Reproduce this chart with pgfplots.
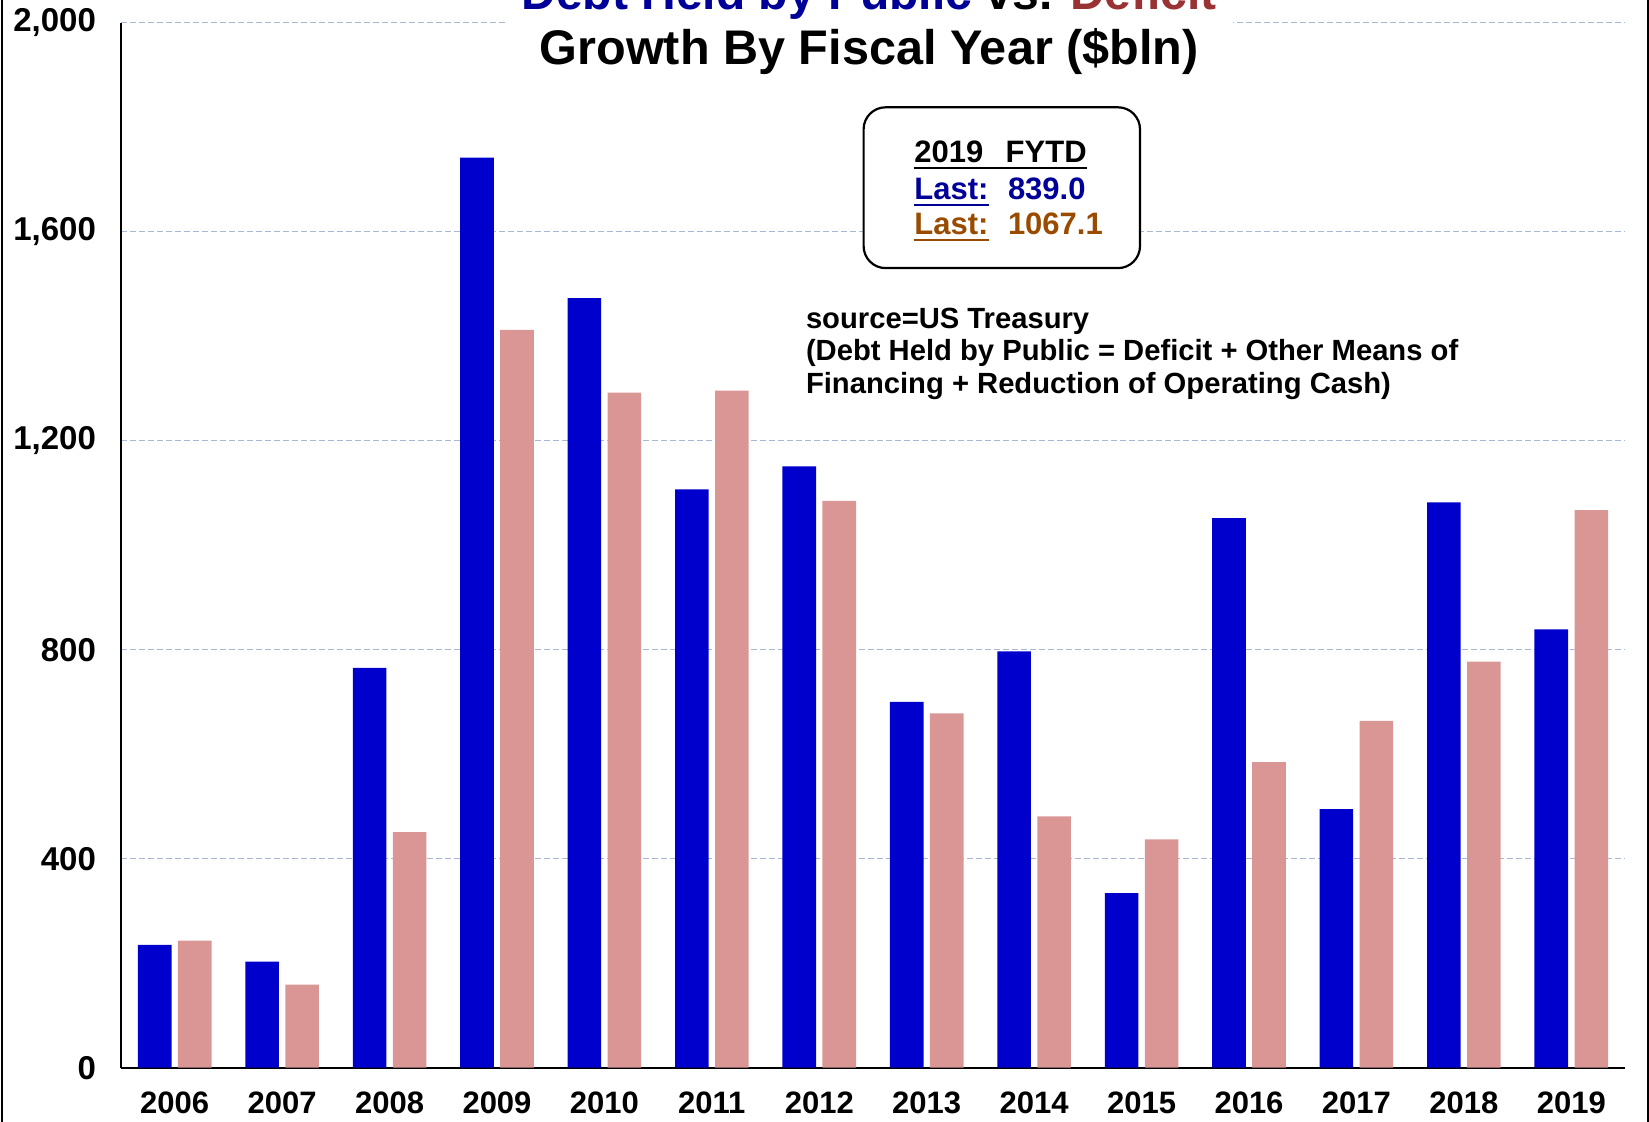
\documentclass[border=0pt]{standalone}
\usepackage{pgfplots}
\pgfplotsset{compat=1.18}
\usepackage{fontspec}
\setmainfont{Liberation Sans}
\definecolor{bblue}{RGB}{0,0,204}
\definecolor{bpink}{RGB}{217,150,148}
\definecolor{gridc}{RGB}{170,185,210}
\definecolor{tblue}{RGB}{0,0,153}
\definecolor{tred}{RGB}{153,51,51}
\definecolor{tbrown}{RGB}{153,76,0}
\begin{document}
\begin{tikzpicture}
\path[use as bounding box, clip] (-60.5pt,-26.65pt) rectangle (764pt,533.85pt);
\begin{axis}[
  at={(0pt,0pt)}, anchor=south west,
  width=752pt, height=522.5pt, scale only axis,
  xmin=-0.5, xmax=13.5, ymin=0, ymax=2000,
  axis x line*=bottom, axis y line*=left,
  axis line style={-, line width=0.8pt, black},
  xtick={0,1,2,3,4,5,6,7,8,9,10,11,12,13},
  xticklabels={2006,2007,2008,2009,2010,2011,2012,2013,2014,2015,2016,2017,2018,2019},
  ytick={0,400,800,1200,1600,2000},
  ymajorgrids,
  grid style={dash pattern=on 3pt off 1.5pt, color=gridc, line width=0.6pt},
  major tick length=0pt,
  tick label style={font=\fontsize{15.5}{18}\selectfont\bfseries},
  yticklabel style={xshift=-9pt, font=\fontsize{16.5}{19}\selectfont\bfseries},
  xticklabel style={yshift=-8.5pt},
  /pgf/number format/assume math mode=true,
  /pgf/number format/1000 sep={,},
  bar width=16.8pt,
]
\addplot[ybar, fill=bblue, draw=none, bar shift=-10pt] coordinates {
 (0,235) (1,203) (2,765) (3,1742) (4,1473) (5,1107) (6,1151)
 (7,700) (8,797) (9,334) (10,1052) (11,495) (12,1082) (13,839)};
\addplot[ybar, fill=bpink, draw=none, bar shift=10pt] coordinates {
 (0,243) (1,159) (2,451) (3,1412) (4,1292) (5,1296) (6,1085)
 (7,678) (8,481) (9,437) (10,585) (11,664) (12,777) (13,1067.1)};
\end{axis}
% frame lines
\draw[line width=1pt] (-59.3pt,-30pt) -- (-59.3pt,540pt);
\draw[line width=1pt] (763.3pt,-30pt) -- (763.3pt,540pt);
% title
\fill[white] (193.5pt,505pt) rectangle (556pt,540pt);
\node[anchor=base, inner sep=0pt, font=\fontsize{24}{28}\selectfont\bfseries] at (374.1pt,528.9pt)
  {\textcolor{tblue}{Debt Held by Public} vs. \textcolor{tred}{Deficit}};
\node[anchor=base, inner sep=0pt, font=\fontsize{24.3}{28}\selectfont\bfseries] at (374.1pt,501.4pt)
  {Growth By Fiscal Year (\$bln)};
% info box
\draw[line width=1.1pt, fill=white, rounded corners=11pt] (371.3pt,399.8pt) rectangle (509.5pt,480.2pt);
\node[anchor=base west, inner sep=0pt, font=\fontsize{15.5}{18}\selectfont\bfseries] (h) at (396.5pt,452.4pt) {2019\ \ \,FYTD};
\draw[line width=1.1pt] ([yshift=-2.6pt]h.base west) -- ([yshift=-2.6pt]h.base east);
\node[anchor=base west, inner sep=0pt, font=\fontsize{15.5}{18}\selectfont\bfseries, text=tblue] (l1) at (396.5pt,434pt) {Last:};
\draw[line width=1.1pt, tblue] ([yshift=-2.6pt]l1.base west) -- ([yshift=-2.6pt]l1.base east);
\node[anchor=base west, inner sep=0pt, font=\fontsize{15.5}{18}\selectfont\bfseries, text=tblue] at (443.3pt,434pt) {839.0};
\node[anchor=base west, inner sep=0pt, font=\fontsize{15.5}{18}\selectfont\bfseries, text=tbrown] (l2) at (396.5pt,416.6pt) {Last:};
\draw[line width=1.1pt, tbrown] ([yshift=-2.6pt]l2.base west) -- ([yshift=-2.6pt]l2.base east);
\node[anchor=base west, inner sep=0pt, font=\fontsize{15.5}{18}\selectfont\bfseries, text=tbrown] at (443.3pt,416.6pt) {1067.1};
% source note
\node[anchor=base west, inner sep=0pt, font=\fontsize{14.6}{17}\selectfont\bfseries] at (342.3pt,369.8pt) {source=US Treasury};
\node[anchor=base west, inner sep=0pt, font=\fontsize{14.6}{17}\selectfont\bfseries] at (342.3pt,353.5pt) {(Debt Held by Public = Deficit + Other Means of};
\node[anchor=base west, inner sep=0pt, font=\fontsize{14.6}{17}\selectfont\bfseries] at (342.3pt,337.2pt) {Financing + Reduction of Operating Cash)};
\end{tikzpicture}
\end{document}
